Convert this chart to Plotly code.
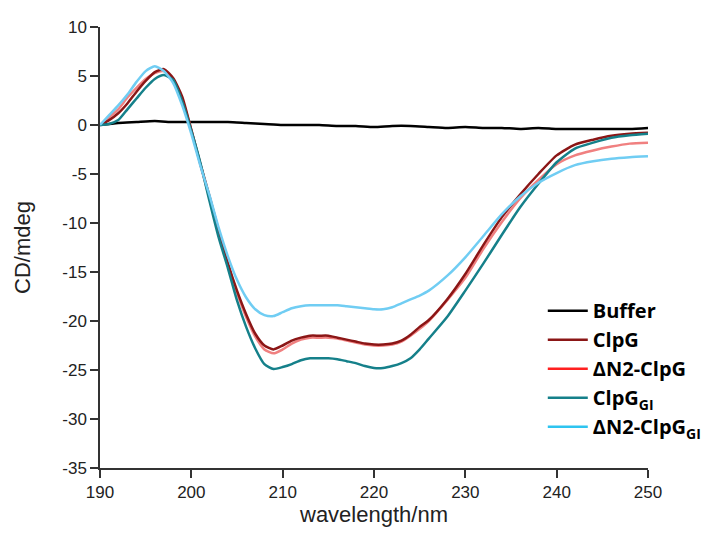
import plotly.graph_objects as go

# wavelengths (nm) for the protein spectra
wl = list(range(190, 227)) + list(range(228, 252, 2))

clpg = [0, 0.5, 1.2, 2.2, 3.4, 4.5, 5.4, 5.7, 4.8, 2.9, -0.5, -4.0, -7.3, -10.8, -14.1, -16.9,
        -19.3, -21.3, -22.5, -22.9, -22.5, -22.0, -21.7, -21.5, -21.5, -21.5, -21.7, -21.9,
        -22.1, -22.3, -22.4, -22.4, -22.3, -22.0, -21.4, -20.6, -19.9,
        -17.8, -15.2, -12.2, -9.4, -7.1, -5.0, -3.1, -2.0, -1.5, -1.1, -0.9, -0.8]

dn2_clpg = [0, 0.8, 1.6, 2.8, 3.8, 4.7, 5.3, 5.5, 4.7, 2.6, -0.5, -4.1, -7.5, -10.9, -14.2, -17.1,
            -19.6, -21.6, -22.9, -23.3, -22.9, -22.3, -21.9, -21.7, -21.7, -21.7, -21.8, -22.0,
            -22.2, -22.4, -22.5, -22.5, -22.4, -22.1, -21.5, -20.8, -20.0,
            -17.9, -15.6, -12.6, -9.9, -7.5, -5.6, -4.0, -3.1, -2.6, -2.2, -1.9, -1.8]

clpg_gi = [0, 0.1, 0.5, 1.6, 2.7, 3.8, 4.7, 5.1, 4.6, 2.4, -0.6, -3.9, -7.8, -11.5, -14.6, -17.9,
           -20.6, -22.8, -24.4, -24.9, -24.7, -24.4, -24.0, -23.8, -23.8, -23.8, -23.9, -24.1,
           -24.3, -24.6, -24.8, -24.8, -24.6, -24.3, -23.8, -22.9, -21.8,
           -19.6, -16.9, -14.1, -11.2, -8.4, -6.0, -3.8, -2.4, -1.8, -1.3, -1.05, -0.9]

dn2_clpg_gi = [0, 1.0, 2.0, 3.1, 4.4, 5.5, 6.0, 5.5, 4.3, 2.0, -0.9, -4.2, -7.2, -10.5, -13.4, -15.8,
               -17.6, -18.8, -19.4, -19.5, -19.1, -18.7, -18.5, -18.4, -18.4, -18.4, -18.4, -18.5,
               -18.6, -18.7, -18.8, -18.8, -18.6, -18.2, -17.8, -17.4, -16.9,
               -15.4, -13.5, -11.3, -9.1, -7.3, -5.9, -4.9, -4.1, -3.7, -3.45, -3.3, -3.2]

wl_buffer = list(range(190, 252, 2))
buffer = [0, 0.2, 0.3, 0.4, 0.3, 0.3, 0.3, 0.3, 0.2, 0.1, 0.0, 0.0, 0.0, -0.1, -0.1, -0.2,
          -0.1, -0.1, -0.2, -0.3, -0.2, -0.3, -0.3, -0.4, -0.3, -0.4, -0.4, -0.4, -0.4, -0.4, -0.3]

x_ticks = [190, 200, 210, 220, 230, 240, 250]
y_ticks = [-35, -30, -25, -20, -15, -10, -5, 0, 5, 10]
y_tick_labels = ["-35", "-30", "-25", "-20", "-15", "-10", "-5", "0", "5", "10"]

names = ["Buffer", "ClpG", "ΔN2-ClpG", "ClpG<sub>GI</sub>", "ΔN2-ClpG<sub>GI</sub>"]
line_colors = ["#000000", "#8B1616", "#F08080", "#15808A", "#70CDF3"]
legend_colors = ["#000000", "#8B1616", "#FF2020", "#15808A", "#2EC4F0"]
series = [(wl_buffer, buffer), (wl, clpg), (wl, dn2_clpg), (wl, clpg_gi), (wl, dn2_clpg_gi)]
draw_order = [0, 2, 1, 3, 4]

fig = go.Figure()
for i in draw_order:
    x, y = series[i]
    fig.add_trace(go.Scatter(x=x, y=y, mode="lines", name=names[i], showlegend=False,
                             line=dict(color=line_colors[i], width=2.5, shape="spline",
                                       smoothing=0.6)))
# legend entries
for i in range(5):
    fig.add_trace(go.Scatter(x=[None], y=[None], mode="lines", name=names[i],
                             legendrank=i + 1,
                             line=dict(color=legend_colors[i], width=2.5)))

axis_common = dict(showline=True, linecolor="#333333", linewidth=1.5, ticks="outside",
                   ticklen=8, tickwidth=1.5, tickcolor="#333333", showgrid=False,
                   zeroline=False, mirror=False,
                   tickfont=dict(family="Liberation Sans, Arial", size=17, color="#222222"))

fig.update_layout(
    width=709, height=536,
    margin=dict(l=92, r=57, t=10, b=76),
    plot_bgcolor="white", paper_bgcolor="white",
    xaxis=dict(range=[190, 250], tickvals=x_ticks,
               title=dict(text="wavelength/nm", standoff=2,
                          font=dict(family="Liberation Sans, Arial", size=22, color="#222222")),
               **axis_common),
    yaxis=dict(range=[-35, 10], tickvals=y_ticks, ticktext=y_tick_labels,
               title=dict(text="CD/mdeg", standoff=26,
                          font=dict(family="Liberation Sans, Arial", size=22, color="#222222")),
               **axis_common),
    legend=dict(x=0.808, y=0.401, xanchor="left", yanchor="top",
                bgcolor="rgba(0,0,0,0)", itemwidth=40,
                font=dict(family="Open Sans", size=20, color="#000000", weight="bold"),
                tracegroupgap=0),
    showlegend=True,
)

fig.write_html("out.html")
